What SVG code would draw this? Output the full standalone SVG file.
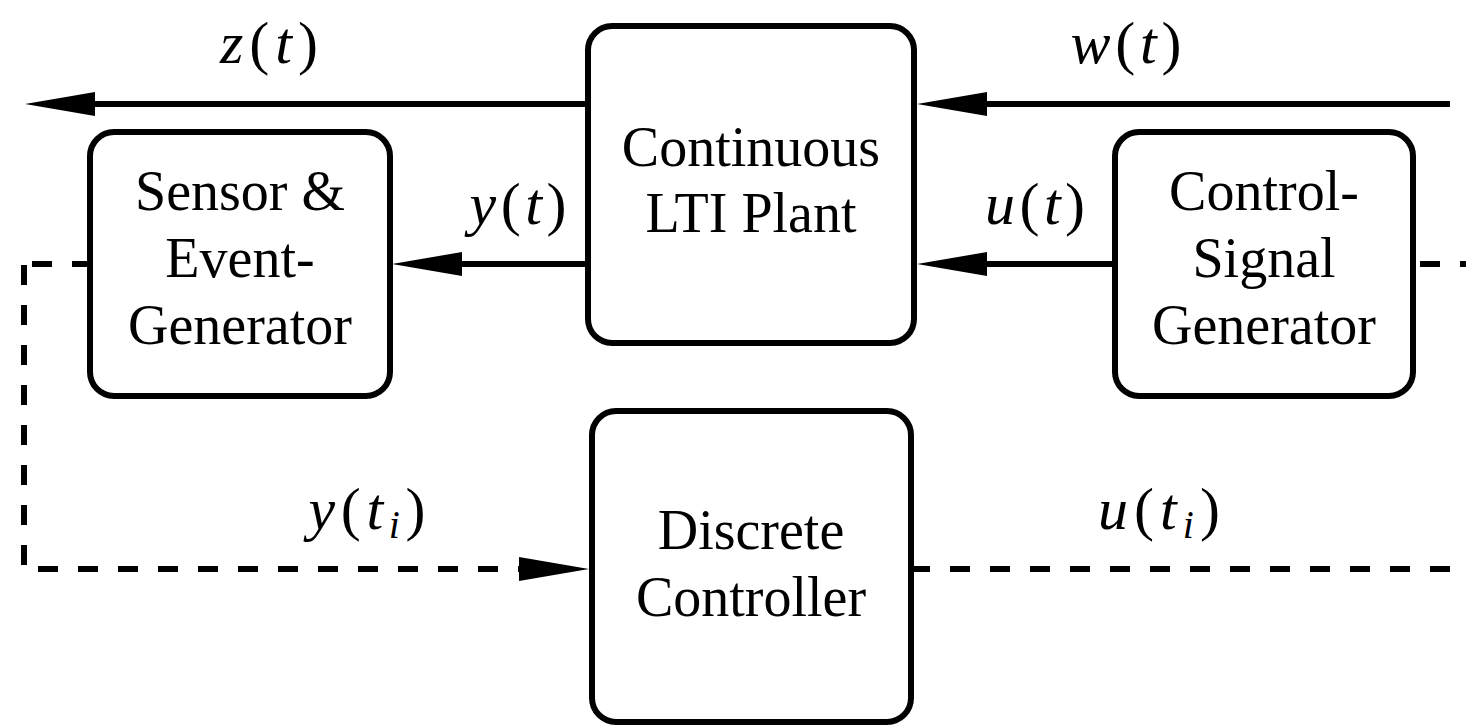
<svg xmlns="http://www.w3.org/2000/svg" width="1466" height="725" viewBox="0 0 1466 725">
  <style>
    .box { fill: #fff; stroke: #000; stroke-width: 6; }
    text { font-family: 'Liberation Serif', 'DejaVu Serif', 'Noto Serif', 'Times New Roman', serif; fill: #000; text-anchor: middle; }
    .txt { font-size: 56px; }
    .lbl { font-size: 60px; }
    .it { font-style: italic; }
    .sub { font-style: italic; font-size: 40px; }
    .solid { fill: none; stroke: #000; stroke-width: 6; }
    .dash { fill: none; stroke: #000; stroke-width: 6; stroke-dasharray: 20 20; }
  </style>
  <defs>
    <marker id="arrow" viewBox="0 -12 70 24" refX="0" refY="0" markerWidth="70" markerHeight="24" markerUnits="userSpaceOnUse" orient="auto">
      <path d="M0,-12 L70,0 L0,12 z" fill="#000"/>
    </marker>
  </defs>
  <rect width="1466" height="725" fill="#fff"/>

  <g id="connectors">
    <path class="solid" d="M588,104 H95" marker-end="url(#arrow)"/>
    <path class="solid" d="M1450,104 H987" marker-end="url(#arrow)"/>
    <path class="solid" d="M588,264 H462" marker-end="url(#arrow)"/>
    <path class="solid" d="M1115,264 H987" marker-end="url(#arrow)"/>
    <path class="dash" d="M24,264 H90" stroke-dashoffset="32"/>
    <path class="dash" d="M24,265 V569"/>
    <path class="dash" d="M24,569 H519" stroke-dashoffset="26"/>
    <path class="solid" d="M518,569 H519" marker-end="url(#arrow)"/>
    <path class="dash" d="M913,569 H1466" stroke-dashoffset="3"/>
    <path class="dash" d="M1413,264 H1466" stroke-dashoffset="33"/>
  </g>

  <g id="plant">
    <rect class="box" x="588" y="26" width="326" height="317" rx="24" ry="24"/>
    <text class="txt" x="751" y="166" font-family="Liberation Serif, DejaVu Serif, serif">Continuous</text>
    <text class="txt" x="751" y="232" font-family="Liberation Serif, DejaVu Serif, serif">LTI Plant</text>
  </g>
  <g id="sensor">
    <rect class="box" x="90" y="132" width="300" height="264" rx="24" ry="24"/>
    <text class="txt" x="240" y="210" font-family="Liberation Serif, DejaVu Serif, serif">Sensor &amp;</text>
    <text class="txt" x="240" y="277" font-family="Liberation Serif, DejaVu Serif, serif">Event-</text>
    <text class="txt" x="240" y="344" font-family="Liberation Serif, DejaVu Serif, serif">Generator</text>
  </g>
  <g id="control">
    <rect class="box" x="1115" y="132" width="298" height="264" rx="24" ry="24"/>
    <text class="txt" x="1264" y="210" font-family="Liberation Serif, DejaVu Serif, serif">Control-</text>
    <text class="txt" x="1264" y="277" font-family="Liberation Serif, DejaVu Serif, serif">Signal</text>
    <text class="txt" x="1264" y="344" font-family="Liberation Serif, DejaVu Serif, serif">Generator</text>
  </g>
  <g id="controller">
    <rect class="box" x="592" y="411" width="319" height="311" rx="24" ry="24"/>
    <text class="txt" x="751" y="549" font-family="Liberation Serif, DejaVu Serif, serif">Discrete</text>
    <text class="txt" x="751" y="616" font-family="Liberation Serif, DejaVu Serif, serif">Controller</text>
  </g>

  <g id="labels" font-family="Liberation Serif, DejaVu Serif, serif">
    <text class="lbl" x="269" y="63" textLength="98" lengthAdjust="spacing"><tspan class="it">z</tspan>(<tspan class="it">t</tspan>)</text>
    <text class="lbl" x="1126" y="63" textLength="111" lengthAdjust="spacing"><tspan class="it">w</tspan>(<tspan class="it">t</tspan>)</text>
    <text class="lbl" x="518" y="224" textLength="97" lengthAdjust="spacing"><tspan class="it">y</tspan>(<tspan class="it">t</tspan>)</text>
    <text class="lbl" x="1035" y="224" textLength="100" lengthAdjust="spacing"><tspan class="it">u</tspan>(<tspan class="it">t</tspan>)</text>
    <text class="lbl" x="367" y="529" textLength="117" lengthAdjust="spacing"><tspan class="it">y</tspan>(<tspan class="it">t</tspan><tspan class="sub" dy="9">i</tspan><tspan dy="-9">)</tspan></text>
    <text class="lbl" x="1159" y="529" textLength="122" lengthAdjust="spacing"><tspan class="it">u</tspan>(<tspan class="it">t</tspan><tspan class="sub" dy="9">i</tspan><tspan dy="-9">)</tspan></text>
  </g>
</svg>
